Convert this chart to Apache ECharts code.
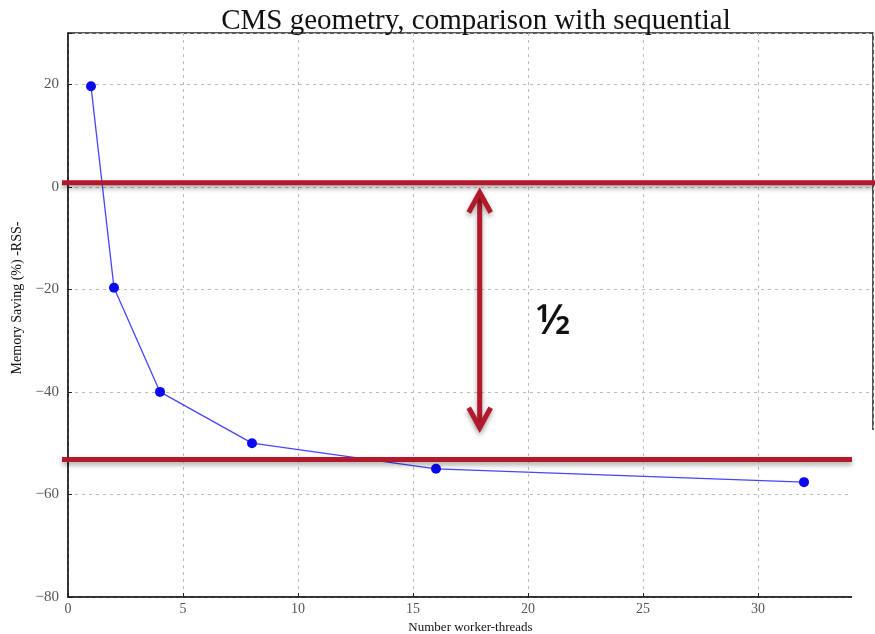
<!DOCTYPE html>
<html>
<head>
<meta charset="utf-8">
<script src="https://cdn.jsdelivr.net/npm/echarts@6/dist/echarts.min.js"></script>
<style>
  html, body { margin: 0; padding: 0; background: #fff; }
  #main { width: 875px; height: 634px; }
</style>
</head>
<body>
<div id="main"></div>
<script>
// data
const threads = [1, 2, 4, 8, 16, 32];
const saving = [19.6, -19.7, -40, -50, -55, -57.6];
const xTicks = [0, 5, 10, 15, 20, 25, 30];
const yTicks = [-80, -60, -40, -20, 0, 20];
// red annotation: two guide levels and a double arrow between them
const guideLevels = [0.8, -53.2];
const arrowX = 17.9;
const arrowEnds = [-1.1, -47];
const note = '½';

const RED = '#b3182b';
const serif = '"Liberation Serif", "DejaVu Serif", serif';
const minus = v => String(v).replace('-', '\u2212');

const chart = echarts.init(document.getElementById('main'));

const option = {
    backgroundColor: '#fff',
    animation: false,
    title: {
        text: 'CMS geometry, comparison with sequential',
        left: 471,
        textAlign: 'center',
        top: 2,
        textStyle: {
            fontFamily: serif,
            fontWeight: 'normal',
            fontSize: 29,
            color: '#111',
        },
    },
    grid: {
        left: 68,
        right: 2,
        top: 33,
        bottom: 37,
        outerBoundsMode: 'none',
        containLabel: false,
        show: true,
        borderColor: '#222',
        borderWidth: 1.5,
    },
    xAxis: {
        type: 'value',
        min: 0,
        max: 35,
        interval: 5,
        name: 'Number worker-threads',
        nameLocation: 'middle',
        nameGap: 18,
        nameTextStyle: { fontFamily: serif, fontSize: 13, color: '#111' },
        axisLine: { show: true, onZero: false, lineStyle: { color: '#222', width: 1.5 } },
        axisTick: { show: true, inside: true, length: 4, lineStyle: { color: '#222' } },
        axisLabel: {
            fontFamily: serif,
            fontSize: 14,
            color: '#555',
            margin: 5,
            formatter: v => (xTicks.includes(v) ? minus(v) : ''),
        },
        splitLine: { show: true, lineStyle: { color: '#bbb', type: [3, 4] } },
    },
    yAxis: {
        type: 'value',
        min: -80,
        max: 30,
        interval: 20,
        name: 'Memory Saving (%) -RSS-',
        nameLocation: 'middle',
        nameGap: 42,
        nameTextStyle: { fontFamily: serif, fontSize: 14, color: '#111', padding: [0, 0, 0, 34] },
        axisLine: { show: true, onZero: false, lineStyle: { color: '#222', width: 1.5 } },
        axisTick: { show: true, inside: true, length: 4, lineStyle: { color: '#222' } },
        axisLabel: {
            fontFamily: serif,
            fontSize: 15,
            color: '#555',
            margin: 9,
            formatter: v => (yTicks.includes(v) ? minus(v) : ''),
        },
        splitLine: { show: true, lineStyle: { color: '#bbb', type: [3, 4] } },
    },
    series: [
        {
            type: 'line',
            data: threads.map((t, i) => [t, saving[i]]),
            symbol: 'circle',
            symbolSize: 10,
            itemStyle: { color: '#0a0aee' },
            lineStyle: { color: '#4646ff', width: 1.3 },
            z: 3,
        },
    ],
};

chart.setOption(option);

// annotations placed through the chart's own scales
const px = (x, y) => chart.convertToPixel({ gridIndex: 0 }, [x, y]);
const shadow = { shadowBlur: 5, shadowColor: 'rgba(0,0,0,0.35)', shadowOffsetY: 3 };
const redLine = { stroke: RED, lineWidth: 5, ...shadow };

const arrowTop = px(arrowX, arrowEnds[0]);
const arrowBot = px(arrowX, arrowEnds[1]);
const g0 = px(0, guideLevels[0]);
const g1 = px(0, guideLevels[1]);
const notePos = px(21.1, -26.3);

chart.setOption({
    graphic: [
        { type: 'line', z: 100, shape: { x1: g0[0] - 6, y1: g0[1], x2: 875, y2: g0[1] }, style: redLine },
        { type: 'line', z: 100, shape: { x1: g1[0] - 6, y1: g1[1], x2: 852, y2: g1[1] }, style: redLine },
        { type: 'line', z: 100, shape: { x1: arrowTop[0], y1: arrowTop[1] + 3, x2: arrowBot[0], y2: arrowBot[1] - 3 }, style: redLine },
        { type: 'polyline', z: 100, shape: { points: [[arrowTop[0] - 11, arrowTop[1] + 20], [arrowTop[0], arrowTop[1]], [arrowTop[0] + 11, arrowTop[1] + 20]] },
          style: { ...redLine, fill: null, lineJoin: 'miter' } },
        { type: 'polyline', z: 100, shape: { points: [[arrowBot[0] - 11, arrowBot[1] - 20], [arrowBot[0], arrowBot[1]], [arrowBot[0] + 11, arrowBot[1] - 20]] },
          style: { ...redLine, fill: null, lineJoin: 'miter' } },
        { type: 'text', z: 100, x: notePos[0], y: notePos[1], style: {
            text: note, fontFamily: '"Open Sans", "DejaVu Sans", sans-serif', fontSize: 42, fontWeight: 600,
            fill: '#111', align: 'center', verticalAlign: 'middle' } },
        // the slide crop hides the bottom-right corner of the figure
        { type: 'rect', z: 99, shape: { x: 852, y: 430, width: 30, height: 210 }, style: { fill: '#fff' } },
    ],
});
</script>
</body>
</html>
